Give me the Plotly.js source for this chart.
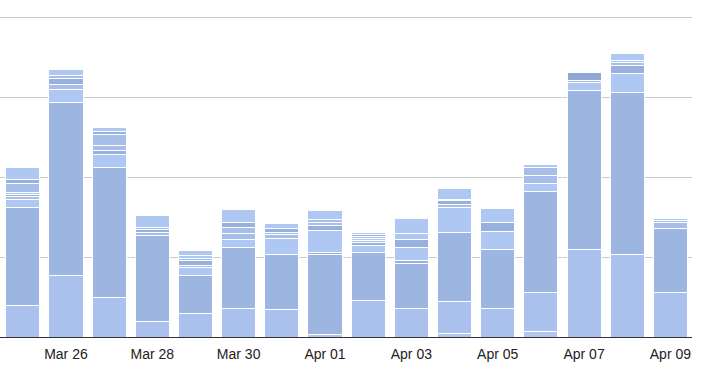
<!DOCTYPE html>
<html>
<head>
<meta charset="utf-8">
<script src="https://cdn.plot.ly/plotly-3.0.1.min.js"></script>
<style>
  html, body { margin: 0; padding: 0; overflow: hidden; background: #fff; }
  #chart { position: absolute; left: -42px; top: 0; width: 753px; height: 365px; }
</style>
</head>
<body>
<div id="chart"></div>
<script>
// ---- data ----
const dates = ["2020-03-25","2020-03-26","2020-03-27","2020-03-28","2020-03-29","2020-03-30","2020-03-31","2020-04-01",
               "2020-04-02","2020-04-03","2020-04-04","2020-04-05","2020-04-06","2020-04-07","2020-04-08","2020-04-09"];
const base0  = [null,null,null,null,null,null,null,3,null,null,4,null,7,null,null,null];
const bottom = [40,77,50,20,30,36,34,null,46,36,40,36,49,110,103,56];
const main   = [123,217,163,107,47,76,69,100,60,56,87,74,127,199,204,80];
const up1 = [10,16,16,4,10,10,20,3,9,4,31,22,10,10,23,7];
const up2 = [3,7,5,4,3,8,5,27,3,16,4,11,10,3,10,3];
const up3 = [3,7,6,2,6,7,3,7,3,10,5,18,10,10,4,2];
const up4 = [2,4,14,15,3,6,5,3,3,8,2,null,3,null,3,2];
const up5 = [12,8,4,null,3,17,6,4,2,19,13,null,null,null,9,null];
const up6 = [4,null,5,null,7,null,null,12,3,null,null,null,null,null,null,null];
const up7 = [15,null,null,null,null,null,null,null,2,null,null,null,null,null,null,null];

// ---- styles ----
const tones = ["LMDLMDL","LMDML","LDMMDL","MDML","LMDMLL","LMMDL","LMMDL","DLDMML",
               "LDMLMDL","DLDLL","LMDML","LDL","LMML","LMX","LDMLL","MMLL"];
const toneColor = {L:"#afc8f3", M:"#a6bee9", D:"#98b0dc", X:"#91a8d4"};
const uppers = [up1,up2,up3,up4,up5,up6,up7];

function bar(y, color, name) {
  return {
    type: "bar", x: dates, y: y, name: name,
    marker: { color: color, line: { color: "#ffffff", width: 1 } },
    hoverinfo: "x+y"
  };
}

const traces = [
  bar(base0, "#b3c7ea", "s0"),
  bar(bottom, "#a9c1ec", "s1"),
  bar(main, "#9cb5e1", "s2")
];
uppers.forEach((arr, k) => {
  const cols = tones.map(t => toneColor[t[k]] || "#afc8f3");
  traces.push(bar(arr, cols, "u" + (k + 1)));
});

const layout = {
  barmode: "stack",
  bargap: 0.21,
  showlegend: false,
  paper_bgcolor: "#ffffff",
  plot_bgcolor: "#ffffff",
  margin: { l: 0, r: 19, t: 16, b: 28 },
  font: { family: "Liberation Sans, Arial, sans-serif", size: 14, color: "#222222" },
  xaxis: {
    type: "date",
    range: ["2020-03-23 12:00", "2020-04-09 12:00"],
    tick0: "2020-03-24",
    dtick: 2 * 86400000,
    tickformat: "%b %d",
    showgrid: false,
    showline: true,
    linecolor: "#333333",
    linewidth: 1,
    ticks: "",
    ticklabelstandoff: 4,
    tickfont: { size: 14, color: "#222222" },
    fixedrange: true
  },
  yaxis: {
    range: [0, 402.5],
    tick0: 0,
    dtick: 100,
    showticklabels: false,
    gridcolor: "#cccccc",
    gridwidth: 1,
    zeroline: false,
    showline: false,
    fixedrange: true
  }
};

Plotly.newPlot("chart", traces, layout, { displayModeBar: false, staticPlot: true });
</script>
</body>
</html>
